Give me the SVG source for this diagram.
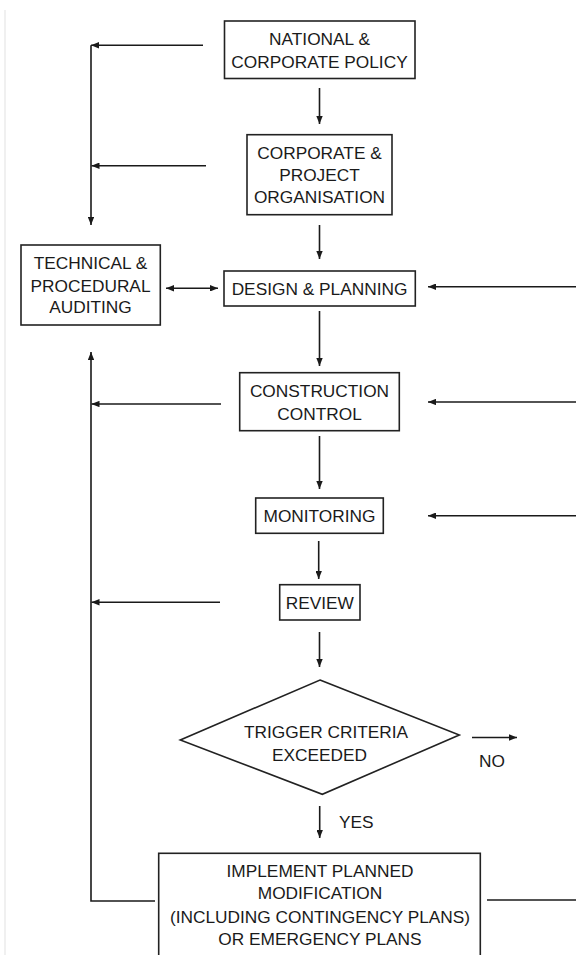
<svg xmlns="http://www.w3.org/2000/svg" width="576" height="955" viewBox="0 0 576 955">
<style>
.box{fill:#fff;stroke:#222;stroke-width:1.6}
.t{font-family:"Liberation Sans",Arial,sans-serif;font-size:17.3px;fill:#1a1a1a;text-anchor:middle}
.c{fill:none;stroke:#1a1a1a;stroke-width:1.6}
.a{marker-end:url(#ah)}
</style>
<defs>
<marker id="ah" viewBox="0 0 10 8" refX="10" refY="4" markerWidth="8" markerHeight="6.4" markerUnits="userSpaceOnUse" orient="auto-start-reverse">
<path d="M0,0 L10,4 L0,8 z" fill="#1a1a1a"/>
</marker>
</defs>
<rect width="576" height="955" fill="#fff"/>
<line x1="5" y1="10" x2="5" y2="955" stroke="#e6e6e6" stroke-width="1.2"/>

<g id="connectors">
<line class="c a" x1="319.5" y1="88" x2="319.5" y2="124"/>
<line class="c a" x1="319.5" y1="225" x2="319.5" y2="259"/>
<line class="c a" x1="319.5" y1="311" x2="319.5" y2="366"/>
<line class="c a" x1="319.5" y1="436" x2="319.5" y2="489"/>
<line class="c a" x1="318.7" y1="541" x2="318.7" y2="579" stroke="#444"/>
<line class="c a" x1="319.5" y1="632" x2="319.5" y2="667"/>
<line class="c a" x1="319.7" y1="806" x2="319.7" y2="838"/>
<line class="c a" x1="472" y1="737.5" x2="517" y2="737.5"/>
<!-- left feedback lines -->
<line class="c a" x1="203" y1="45.3" x2="91" y2="45.3"/>
<polyline class="c a" points="91,45.3 91,225"/>
<line class="c a" x1="206" y1="165.7" x2="91.5" y2="165.7"/>
<line class="c a" x1="166" y1="288.3" x2="218" y2="288.3" style="marker-start:url(#ah)"/>
<line class="c a" x1="221" y1="404" x2="91.5" y2="404"/>
<line class="c a" x1="220" y1="602.3" x2="91.5" y2="602.3"/>
<polyline class="c a" points="155,901 91,901 91,352"/>
<!-- right inputs -->
<line class="c a" x1="576" y1="286.7" x2="428" y2="286.7"/>
<line class="c a" x1="576" y1="402" x2="428" y2="402"/>
<line class="c a" x1="576" y1="515.7" x2="428" y2="515.7"/>
<line class="c" x1="487" y1="900" x2="576" y2="900"/>
</g>

<g id="national">
<rect class="box" x="224.5" y="21" width="190.5" height="57.5"/>
<text class="t" x="319.5" y="45">NATIONAL &amp;</text>
<text class="t" x="319.5" y="67.5">CORPORATE POLICY</text>
</g>

<g id="corporate">
<rect class="box" x="247" y="134.7" width="145" height="80"/>
<text class="t" x="319.5" y="159">CORPORATE &amp;</text>
<text class="t" x="319.5" y="181">PROJECT</text>
<text class="t" x="319.5" y="202.7">ORGANISATION</text>
</g>

<g id="auditing">
<rect class="box" x="21" y="245" width="139.3" height="80"/>
<text class="t" x="90.5" y="269.3">TECHNICAL &amp;</text>
<text class="t" x="90.5" y="291.8">PROCEDURAL</text>
<text class="t" x="90.5" y="313.3">AUDITING</text>
</g>

<g id="design">
<rect class="box" x="224" y="271" width="191.3" height="35"/>
<text class="t" x="319.5" y="295">DESIGN &amp; PLANNING</text>
</g>

<g id="construction">
<rect class="box" x="239.7" y="372.7" width="159.6" height="58"/>
<text class="t" x="319.5" y="396.7">CONSTRUCTION</text>
<text class="t" x="319.5" y="420">CONTROL</text>
</g>

<g id="monitoring">
<rect class="box" x="255.7" y="498" width="127.6" height="35.3"/>
<text class="t" x="319.5" y="522.3">MONITORING</text>
</g>

<g id="review">
<rect class="box" x="279.7" y="584.7" width="80.3" height="35.3"/>
<text class="t" x="319.8" y="609">REVIEW</text>
</g>

<g id="trigger">
<polygon class="box" points="320,680 459.3,735 322.3,794.3 180.3,740" stroke-width="1.4"/>
<text class="t" x="326" y="738.3">TRIGGER CRITERIA</text>
<text class="t" x="319.5" y="760.7">EXCEEDED</text>
</g>

<g id="labels">
<text class="t" x="492" y="766.7">NO</text>
<text class="t" x="339" y="827.7" style="text-anchor:start">YES</text>
</g>

<g id="implement">
<rect class="box" x="158.7" y="853.3" width="321.6" height="120"/>
<text class="t" x="320" y="877.3">IMPLEMENT PLANNED</text>
<text class="t" x="320" y="899.3">MODIFICATION</text>
<text class="t" x="320" y="922.7">(INCLUDING CONTINGENCY PLANS)</text>
<text class="t" x="320" y="945">OR EMERGENCY PLANS</text>
</g>
</svg>
